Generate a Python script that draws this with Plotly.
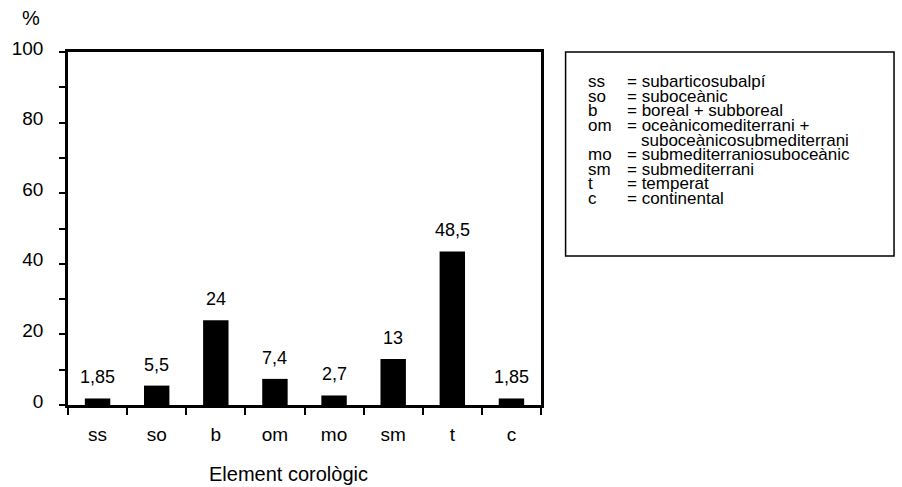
import plotly.graph_objects as go

# ---- data ----
categories = ["ss", "so", "b", "om", "mo", "sm", "t", "c"]
bar_heights = [1.85, 5.5, 24, 7.4, 2.7, 13, 43.5, 1.85]   # heights as drawn
bar_labels = ["1,85", "5,5", "24", "7,4", "2,7", "13", "48,5", "1,85"]
y_ticks = [0, 20, 40, 60, 80, 100]
legend_abbr = ["ss", "so", "b", "om", "", "mo", "sm", "t", "c"]
legend_desc = ["subarticosubalpí", "suboceànic", "boreal + subboreal",
               "oceànicomediterrani +", "suboceànicosubmediterrani",
               "submediterraniosuboceànic", "submediterrani", "temperat",
               "continental"]
x_title = "Element corològic"
y_unit = "%"

# ---- layout geometry (pixels) ----
W, H = 902, 487
L, R, T, B = 60, 541, 52, 405
PW, PH = R - L, B - T
FONT = "Liberation Sans, Arial, Helvetica, sans-serif"


def px(x):
    return (x - L) / PW


def py(y):
    return (B - y) / PH


fig = go.Figure()
fig.add_trace(go.Bar(
    x=categories, y=bar_heights, width=0.43,
    marker=dict(color="black", line=dict(width=0)),
    hoverinfo="x+y", showlegend=False,
))

annotations = []
for c, v, lab in zip(categories, bar_heights, bar_labels):
    annotations.append(dict(x=c, y=v, xref="x", yref="y", text=lab,
                            showarrow=False, yanchor="middle", yshift=21,
                            font=dict(size=18, color="black", family=FONT)))

# y unit and x title
annotations.append(dict(x=px(22), y=py(17.5), xref="paper", yref="paper",
                        text=y_unit, showarrow=False, xanchor="center",
                        yanchor="middle",
                        font=dict(size=20, color="black", family=FONT)))
annotations.append(dict(x=px(284), y=py(486), xref="paper", yref="paper",
                        text=x_title, showarrow=False, xanchor="center",
                        yanchor="bottom", borderpad=0,
                        font=dict(size=20, color="black", family=FONT)))

# legend text block
LEG_FONT = 17
line0 = 82
pitch = 14.5
for i, (a, d) in enumerate(zip(legend_abbr, legend_desc)):
    yy = py(line0 + i * pitch)
    if a:
        annotations.append(dict(x=px(588), y=yy, xref="paper", yref="paper",
                                text=a, showarrow=False, xanchor="left",
                                yanchor="middle", borderpad=0,
                                font=dict(size=LEG_FONT, color="black", family=FONT)))
        annotations.append(dict(x=px(627), y=yy, xref="paper", yref="paper",
                                text="= " + d, showarrow=False, xanchor="left",
                                yanchor="middle", borderpad=0,
                                font=dict(size=LEG_FONT, color="black", family=FONT)))
    else:
        annotations.append(dict(x=px(642), y=yy, xref="paper", yref="paper",
                                text=d, showarrow=False, xanchor="left",
                                yanchor="middle", borderpad=0,
                                font=dict(size=LEG_FONT, color="black", family=FONT)))

shapes = [dict(type="rect", xref="paper", yref="paper",
               x0=px(566), x1=px(900), y0=py(256), y1=py(52),
               line=dict(color="black", width=1.5), fillcolor="rgba(0,0,0,0)")]

fig.update_layout(
    width=W, height=H, autosize=False,
    margin=dict(l=L, r=W - R, t=T, b=H - B),
    paper_bgcolor="white", plot_bgcolor="white",
    font=dict(family=FONT, color="black", size=19),
    annotations=annotations, shapes=shapes,
    xaxis=dict(
        type="category", showline=True, linecolor="black", linewidth=2.5,
        mirror=True, ticks="outside", tickson="boundaries", ticklen=7,
        tickwidth=1.5, tickcolor="black", showgrid=False, zeroline=False,
        tickfont=dict(size=19, family=FONT, color="black"),
        range=[-0.5, len(categories) - 0.5],
        ticklabelstandoff=10,
    ),
    yaxis=dict(
        range=[0, 100], tickvals=y_ticks, ticktext=[str(v) for v in y_ticks],
        showline=True, linecolor="black", linewidth=2.5, mirror=True,
        ticks="outside", ticklen=6, tickwidth=1.5, tickcolor="black",
        minor=dict(dtick=10, ticks="outside", ticklen=6, tickwidth=1.5,
                   tickcolor="black"),
        showgrid=False, zeroline=False,
        tickfont=dict(size=19, family=FONT, color="black"),
        ticklabelstandoff=12, ticklabelshift=-4,
    ),
)

fig.write_html(
    "out.html",
    config={"displayModeBar": False},
    post_script="document.body.style.margin='0';"
                "document.body.style.padding='0';"
                "document.documentElement.style.overflow='hidden';",
)
